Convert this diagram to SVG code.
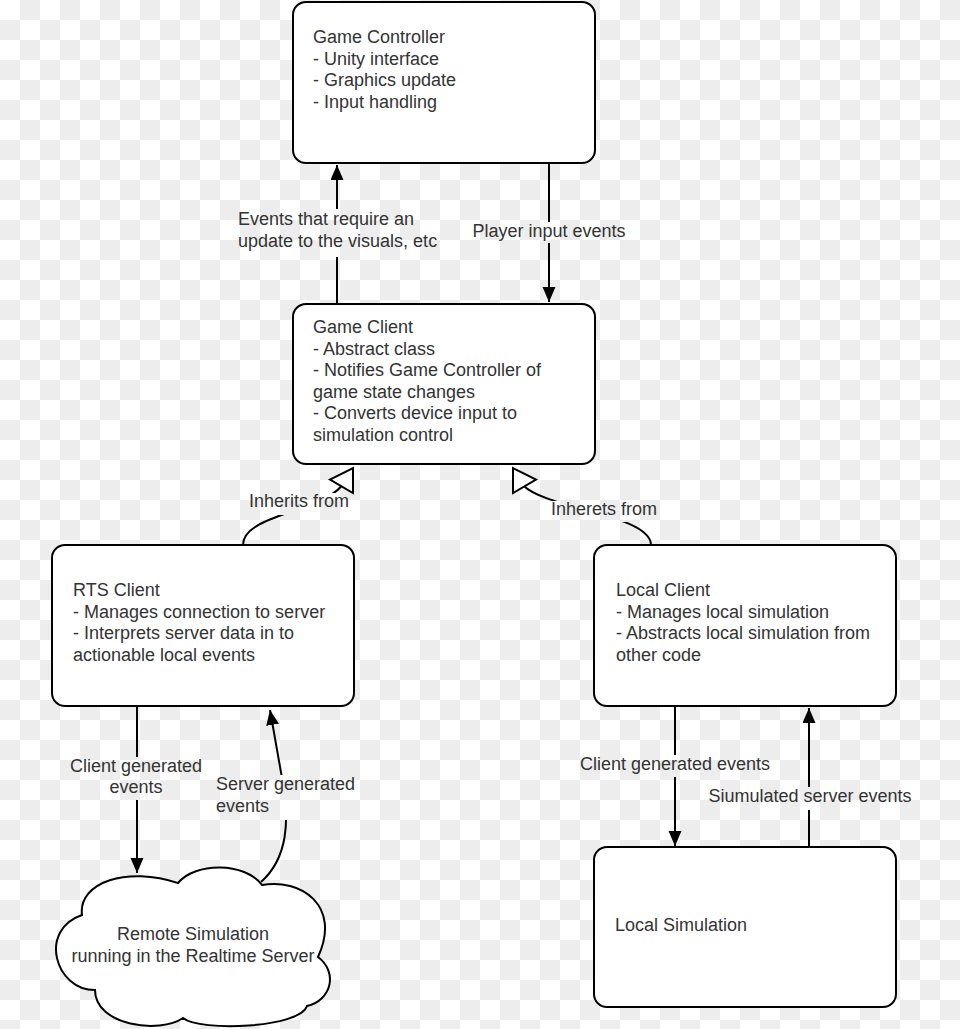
<svg xmlns="http://www.w3.org/2000/svg" width="960" height="1029" viewBox="0 0 960 1029">
<defs>
<pattern id="checker" x="0" y="0" width="40" height="40" patternUnits="userSpaceOnUse">
<rect x="0" y="0" width="40" height="40" fill="#ffffff"/>
<rect x="20" y="0" width="20" height="20" fill="#ededed"/>
<rect x="0" y="20" width="20" height="20" fill="#ededed"/>
</pattern>
<marker id="arrow" markerUnits="userSpaceOnUse" markerWidth="16" markerHeight="14" refX="15" refY="6.5" orient="auto">
<path d="M0,0 L15,6.5 L0,13 Z" fill="#000"/>
</marker>
<mask id="gaps" maskUnits="userSpaceOnUse" x="0" y="0" width="960" height="1029">
<rect x="0" y="0" width="960" height="1029" fill="#fff"/>
<rect x="230" y="209" width="230" height="48" fill="#000"/>
<rect x="470" y="222" width="160" height="21" fill="#000"/>
<rect x="248" y="493" width="102" height="22" fill="#000"/>
<rect x="550" y="501" width="110" height="21" fill="#000"/>
<rect x="60" y="757" width="150" height="43" fill="#000"/>
<rect x="212" y="775" width="150" height="45" fill="#000"/>
<rect x="575" y="755" width="200" height="22" fill="#000"/>
<rect x="705" y="787" width="210" height="23" fill="#000"/>
</mask>
</defs>
<style>
.box{fill:#fff;stroke:#000;stroke-width:2}
.t{font-family:"Liberation Sans",Arial,sans-serif;font-size:18px;fill:#333}
.c{fill:none;stroke:#000;stroke-width:2}
.mid{text-anchor:middle}
</style>
<rect x="0" y="0" width="960" height="1029" fill="url(#checker)"/>

<g id="connectors">
<g mask="url(#gaps)">
<line class="c" x1="337" y1="304" x2="337" y2="165" marker-end="url(#arrow)"/>
<line class="c" x1="549" y1="163" x2="549" y2="302" marker-end="url(#arrow)"/>
<path class="c" d="M243,545 C243,515 320,512 341.5,486"/>
<path class="c" d="M651,545 C651,515 545,508 524,486"/>
<line class="c" x1="137" y1="706" x2="137" y2="873" marker-end="url(#arrow)"/>
<path class="c" d="M261,882 C288,858 290,820 282,778 L270,710" marker-end="url(#arrow)"/>
<line class="c" x1="675" y1="706" x2="675" y2="846" marker-end="url(#arrow)"/>
<line class="c" x1="809" y1="847" x2="809" y2="708" marker-end="url(#arrow)"/>
</g>
<polygon points="353,468 353,493 330,479.5" fill="#fff" stroke="#000" stroke-width="2" stroke-linejoin="miter"/>
<polygon points="513,468 513,493 536,479.5" fill="#fff" stroke="#000" stroke-width="2" stroke-linejoin="miter"/>
<text class="t" x="238" y="225">Events that require an</text>
<text class="t" x="238" y="247">update to the visuals, etc</text>
<text class="t mid" x="549" y="237">Player input events</text>
<text class="t mid" x="299" y="507">Inherits from</text>
<text class="t mid" x="604" y="515">Inherets from</text>
<text class="t mid" x="136" y="772">Client generated</text>
<text class="t mid" x="136" y="793">events</text>
<text class="t" x="216" y="790">Server generated</text>
<text class="t" x="216" y="812">events</text>
<text class="t mid" x="675" y="770">Client generated events</text>
<text class="t mid" x="810" y="802">Siumulated server events</text>
</g>

<g id="game-controller">
<rect class="box" x="293" y="2" width="302" height="161" rx="13"/>
<text class="t" x="313" y="43">Game Controller</text>
<text class="t" x="313" y="64.6">- Unity interface</text>
<text class="t" x="313" y="86.2">- Graphics update</text>
<text class="t" x="313" y="107.8">- Input handling</text>
</g>

<g id="game-client">
<rect class="box" x="293" y="304" width="302" height="160" rx="13"/>
<text class="t" x="313" y="333">Game Client</text>
<text class="t" x="313" y="354.6">- Abstract class</text>
<text class="t" x="313" y="376.2">- Notifies Game Controller of</text>
<text class="t" x="313" y="397.8">game state changes</text>
<text class="t" x="313" y="419.4">- Converts device input to</text>
<text class="t" x="313" y="441">simulation control</text>
</g>

<g id="rts-client">
<rect class="box" x="52" y="545" width="302" height="161" rx="13"/>
<text class="t" x="73" y="596">RTS Client</text>
<text class="t" x="73" y="617.6">- Manages connection to server</text>
<text class="t" x="73" y="639.2">- Interprets server data in to</text>
<text class="t" x="73" y="660.8">actionable local events</text>
</g>

<g id="local-client">
<rect class="box" x="594" y="545" width="302" height="161" rx="13"/>
<text class="t" x="616" y="596">Local Client</text>
<text class="t" x="616" y="617.6">- Manages local simulation</text>
<text class="t" x="616" y="639.2">- Abstracts local simulation from</text>
<text class="t" x="616" y="660.8">other code</text>
</g>

<g id="local-simulation">
<rect class="box" x="594" y="847" width="302" height="160" rx="13"/>
<text class="t" x="615" y="931">Local Simulation</text>
</g>

<g id="remote-simulation">
<path class="box" d="M82,915 C78,882 128,866 178,883 C195,862 245,862 262,885 C300,878 342,905 318,957 C338,972 332,1000 307,1006 C300,1028 200,1032 183,1018 C160,1034 95,1026 95,990 C55,990 38,930 82,915 Z"/>
<text class="t mid" x="193" y="940">Remote Simulation</text>
<text class="t mid" x="193" y="962">running in the Realtime Server</text>
</g>
</svg>
